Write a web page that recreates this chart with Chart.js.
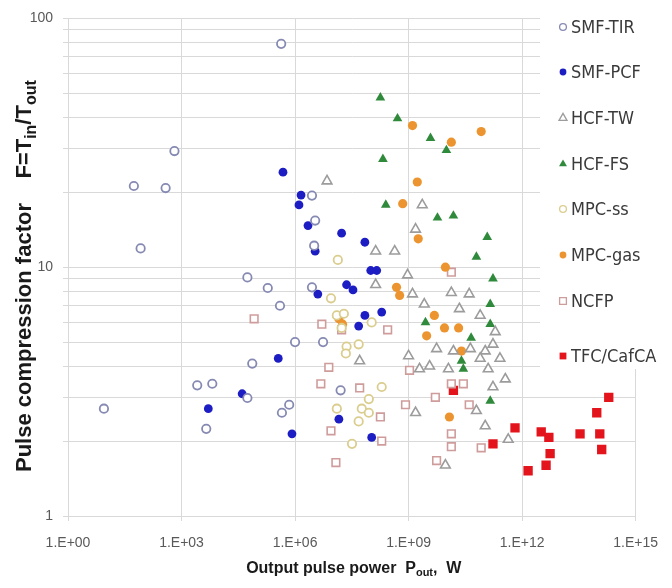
<!DOCTYPE html>
<html>
<head>
<meta charset="utf-8">
<script src="https://cdn.jsdelivr.net/npm/chart.js@4.4.1/dist/chart.umd.min.js"></script>
<style>
  body { margin: 0; background: #fff; }
  canvas { display: block; }
</style>
</head>
<body>
<canvas id="compression" width="672" height="588"></canvas>
<script>
// Pulse compression factor vs output power, one list per technique: [P_out in W, F]
const seriesNames = ['SMF-TIR', 'SMF-PCF', 'HCF-TW', 'HCF-FS', 'MPC-ss', 'MPC-gas', 'NCFP', 'TFC/CafCA'];

const smfTir = [
  [8.9, 2.7], [55, 21.2], [380, 20.8], [650, 29.3], [83, 11.9], [5.5e4, 9.1], [4.3e5, 79],
  [1.9e5, 8.25], [2.8e6, 8.3], [4.0e5, 7.0], [1.0e6, 5.0], [5.5e6, 5.0], [7.4e4, 4.1],
  [2.6e3, 3.35], [6.5e3, 3.4], [5.5e4, 2.98], [7.0e5, 2.8], [4.5e5, 2.6], [4.5e3, 2.24],
  [1.6e7, 3.2], [2.8e6, 19.4], [3.4e6, 15.4], [3.2e6, 12.2]
];
const smfPcf = [
  [4.8e5, 24.1], [1.44e6, 19.5], [1.27e6, 17.8], [2.2e6, 14.7], [1.7e7, 13.7], [7.0e7, 12.6],
  [3.4e6, 11.6], [1.0e8, 9.7], [1.44e8, 9.7], [4.0e6, 7.8], [2.3e7, 8.5], [3.4e7, 8.1],
  [7.0e7, 6.4], [1.95e8, 6.6], [4.8e7, 5.8], [3.6e5, 4.3], [4.0e4, 3.1], [5.1e3, 2.7],
  [8.3e5, 2.14], [1.44e7, 2.45], [1.06e8, 2.07]
];
const hcfTw = [
  [7.0e6, 22.2], [1.35e8, 11.6], [4.3e8, 11.6], [9.4e8, 9.3], [1.35e8, 8.5], [1.27e9, 7.8],
  [2.3e9, 17.8], [1.53e9, 14.2], [1.35e10, 7.9], [4.0e10, 7.8], [2.6e9, 7.1], [2.2e10, 6.8],
  [7.8e10, 6.4], [1.95e11, 5.5], [1.7e11, 4.9], [5.5e9, 4.7], [1.53e10, 4.6], [4.3e10, 4.7],
  [1.06e11, 4.6], [1.0e9, 4.4], [7.8e10, 4.3], [2.6e11, 4.3], [1.95e9, 3.9], [3.6e9, 4.0],
  [1.13e10, 3.9], [1.27e11, 3.9], [3.6e11, 3.55], [1.7e11, 3.3], [5.1e7, 4.2], [1.53e9, 2.6],
  [6.2e10, 2.65], [1.06e11, 2.3], [4.3e11, 2.03], [9.4e9, 1.6]
];
const hcfFs = [
  [1.8e8, 48], [5.1e8, 39.6], [3.8e9, 33.0], [1.0e10, 29.5], [2.1e8, 27.2], [2.5e8, 17.8],
  [5.8e9, 15.8], [1.53e10, 16.1], [1.2e11, 13.2], [6.2e10, 11.0], [1.7e11, 9.0], [1.44e11, 7.1],
  [2.8e9, 6.0], [1.44e11, 5.9], [4.5e10, 5.2], [2.5e10, 4.2], [2.8e10, 3.9], [1.44e11, 2.9]
];
const mpcSs = [
  [1.35e7, 10.7], [8.9e6, 7.5], [1.27e7, 6.4], [1.95e7, 6.5], [1.7e7, 5.7], [1.06e8, 6.0],
  [4.8e7, 4.9], [2.3e7, 4.8], [2.2e7, 4.5], [1.95e8, 3.3], [8.9e7, 2.95], [5.8e7, 2.7],
  [8.9e7, 2.6], [4.8e7, 2.4], [1.27e7, 2.7], [3.2e7, 1.95]
];
const mpcGas = [
  [1.27e9, 37.1], [8.3e10, 35.1], [1.35e10, 31.8], [1.7e9, 22.0], [7.0e8, 18.0], [1.8e9, 13.0],
  [9.4e9, 10.0], [4.8e8, 8.3], [5.8e8, 7.7], [4.8e9, 6.4], [8.9e9, 5.7], [2.1e10, 5.7],
  [3.0e9, 5.3], [2.5e10, 4.6], [1.2e10, 2.5], [1.44e7, 6.2], [1.8e7, 5.9]
];
const ncfp = [
  [8.3e4, 6.2], [5.1e6, 5.9], [7.8e6, 3.96], [4.8e6, 3.4], [8.9e6, 2.2], [1.2e7, 1.64],
  [1.7e7, 5.6], [2.8e8, 5.6], [5.1e7, 3.27], [1.8e8, 2.5], [1.95e8, 2.0], [1.06e9, 3.85],
  [1.35e10, 3.4], [2.8e10, 3.4], [5.1e9, 3.0], [8.3e8, 2.8], [4.0e10, 2.8], [1.35e10, 2.14],
  [1.35e10, 1.9], [8.3e10, 1.88], [5.5e9, 1.67], [1.35e10, 9.55]
];
const tfcCafca = [
  [1.53e10, 3.2], [1.7e11, 1.95], [6.5e11, 2.26], [1.44e12, 1.52], [3.2e12, 2.18], [5.1e12, 2.07],
  [5.5e12, 1.78], [4.3e12, 1.6], [3.4e13, 2.14], [9.4e13, 2.6], [1.95e14, 3.0], [1.13e14, 2.14],
  [1.27e14, 1.85]
];

const xTickExponents = [0, 3, 6, 9, 12, 15];
const yTickLabels = [1, 10, 100];
const yGridValues = [1, 2, 3, 4, 5, 6, 7, 8, 9, 10, 20, 30, 40, 50, 60, 70, 80, 90, 100];

const seriesData = [smfTir, smfPcf, hcfTw, hcfFs, mpcSs, mpcGas, ncfp, tfcCafca];
const markerStyles = [
  { pointStyle: 'circle',   pointRadius: 4.2, borderColor: '#868ab3', backgroundColor: '#ffffff', borderWidth: 1.8 },
  { pointStyle: 'circle',   pointRadius: 4.4, borderColor: '#1d1dc4', backgroundColor: '#1d1dc4', borderWidth: 0 },
  { pointStyle: 'triangle', pointRadius: 5.6, borderColor: '#9c9c9c', backgroundColor: '#ffffff', borderWidth: 1.6 },
  { pointStyle: 'triangle', pointRadius: 5.6, borderColor: '#2f8a3c', backgroundColor: '#2f8a3c', borderWidth: 0 },
  { pointStyle: 'circle',   pointRadius: 4.2, borderColor: '#dacd8e', backgroundColor: '#ffffff', borderWidth: 1.8 },
  { pointStyle: 'circle',   pointRadius: 4.6, borderColor: '#ec9530', backgroundColor: '#ec9530', borderWidth: 0 },
  { pointStyle: 'rect',     pointRadius: 5.4, borderColor: '#cf9c9c', backgroundColor: '#ffffff', borderWidth: 1.6 },
  { pointStyle: 'rect',     pointRadius: 6.6, borderColor: '#e3141c', backgroundColor: '#e3141c', borderWidth: 0 }
];

const datasets = seriesNames.map((name, i) => Object.assign({
  label: name,
  data: seriesData[i].map(([x, y]) => ({ x, y })),
  showLine: false
}, markerStyles[i]));

const TICK_FONT = { family: '"Liberation Sans", Arial, sans-serif', size: 14 };
const GRID = '#d9d9d9';

// legend sits on a white panel over the upper right of the plot
const sideLegend = {
  id: 'sideLegend',
  beforeDatasetsDraw(chart) {
    chart.ctx.save();
    chart.ctx.fillStyle = '#ffffff';
    chart.ctx.fillRect(540, 0, 132, 369);
    chart.ctx.restore();
  },
  afterDatasetsDraw(chart) {
    const ctx = chart.ctx;
    const rows = [27, 72, 118, 164, 209, 255, 301, 356];
    const sizes = { circle: 3.4, triangle: 4.6, rect: 4.8 };
    ctx.save();
    chart.data.datasets.forEach((ds, i) => {
      const y = rows[i];
      ctx.fillStyle = ds.backgroundColor;
      ctx.strokeStyle = ds.borderColor;
      ctx.lineWidth = ds.borderWidth ? 1.3 : 0;
      Chart.helpers.drawPoint(ctx, {
        pointStyle: ds.pointStyle, radius: sizes[ds.pointStyle], rotation: 0,
        borderWidth: ds.borderWidth ? 1.3 : 0
      }, 563, y);
      ctx.fillStyle = '#3a3a3a';
      ctx.font = '18px "Liberation Sans Narrow", "DejaVu Sans Condensed", sans-serif';
      ctx.textBaseline = 'middle';
      ctx.textAlign = 'left';
      ctx.fillText(ds.label, 571, y + 1);
    });
    ctx.restore();
  }
};

// draws a run of [text, size, drop] pieces, drop moves subscripts below the baseline
function drawRuns(ctx, runs, x, y, centred) {
  const font = s => 'bold ' + s + 'px "Liberation Sans", Arial, sans-serif';
  let total = 0;
  runs.forEach(([t, s]) => { ctx.font = font(s); total += ctx.measureText(t).width; });
  let cx = centred ? x - total / 2 : x;
  runs.forEach(([t, s, drop]) => {
    ctx.font = font(s);
    ctx.fillText(t, cx, y + (drop || 0));
    cx += ctx.measureText(t).width;
  });
}

const axisTitles = {
  id: 'axisTitles',
  afterDraw(chart) {
    const ctx = chart.ctx;
    const area = chart.chartArea;
    ctx.save();
    ctx.fillStyle = '#1a1a1a';
    ctx.textBaseline = 'alphabetic';
    ctx.textAlign = 'left';
    drawRuns(ctx, [['Output pulse power  P', 16], ['out', 11, 3], [',  W', 16]],
      (area.left + area.right) / 2 + 2, 573, true);
    ctx.translate(31, 472);
    ctx.rotate(-Math.PI / 2);
    drawRuns(ctx, [['Pulse compression factor    F=T', 22], ['in', 16, 5], ['/T', 22], ['out', 16, 5]],
      0, 0, false);
    ctx.restore();
  }
};

new Chart(document.getElementById('compression'), {
  type: 'scatter',
  data: { datasets },
  plugins: [sideLegend, axisTitles],
  options: {
    responsive: false,
    animation: false,
    layout: { padding: { top: 14, right: 33, left: 0, bottom: 0 } },
    plugins: {
      legend: { display: false },
      tooltip: { enabled: false }
    },
    scales: {
      x: {
        type: 'logarithmic',
        min: 1,
        max: 1e15,
        afterBuildTicks: scale => { scale.ticks = xTickExponents.map(e => ({ value: Math.pow(10, e) })); },
        afterFit: scale => { scale.height = 72; },
        ticks: {
          autoSkip: false,
          maxRotation: 0,
          padding: 14,
          color: '#595959',
          font: TICK_FONT,
          callback: v => '1.E+' + String(Math.round(Math.log10(v))).padStart(2, '0')
        },
        grid: { color: GRID, tickLength: 5, lineWidth: 1 },
        border: { color: GRID }
      },
      y: {
        type: 'logarithmic',
        min: 1,
        max: 100,
        afterBuildTicks: scale => { scale.ticks = yGridValues.map(v => ({ value: v })); },
        afterFit: scale => { scale.width = 68; },
        ticks: {
          autoSkip: false,
          padding: 10,
          color: '#595959',
          font: TICK_FONT,
          callback: v => yTickLabels.includes(v) ? String(v) : ''
        },
        grid: { color: GRID, tickLength: 5, lineWidth: 1 },
        border: { color: GRID }
      }
    }
  }
});
</script>
</body>
</html>
